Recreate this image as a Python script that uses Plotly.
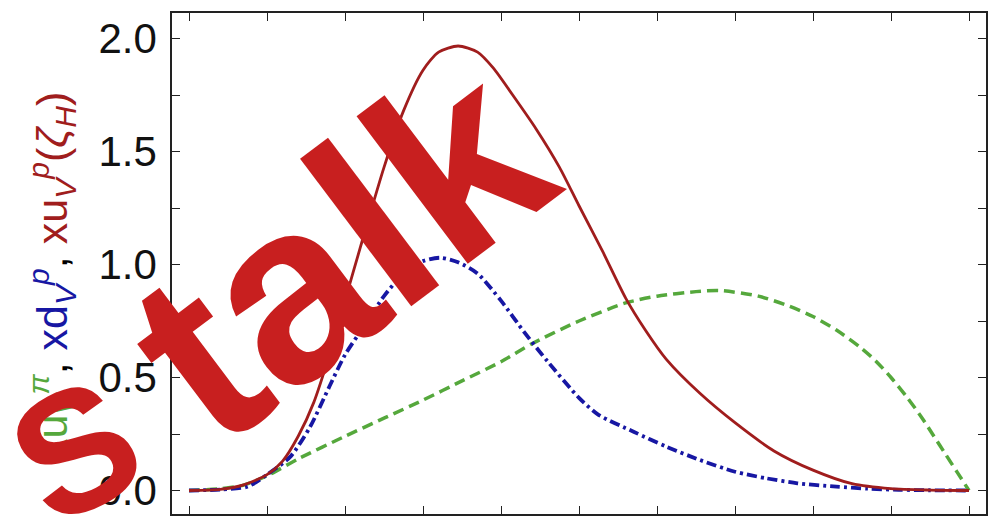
import plotly.graph_objects as go

# ---- data ----
x_red = [0, 0.04, 0.07, 0.1, 0.12, 0.14, 0.16, 0.18, 0.2, 0.22, 0.25, 0.275, 0.3, 0.32,
         0.345, 0.37, 0.39, 0.415, 0.445, 0.475, 0.5, 0.53, 0.56, 0.585, 0.612, 0.655,
         0.7, 0.75, 0.8, 0.85, 0.9, 0.95, 1.0]
y_red = [0, 0.005, 0.025, 0.07, 0.13, 0.24, 0.39, 0.6, 0.84, 1.08, 1.43, 1.68, 1.86, 1.94,
         1.967, 1.94, 1.87, 1.75, 1.6, 1.43, 1.26, 1.06, 0.85, 0.71, 0.58, 0.43, 0.3,
         0.175, 0.09, 0.03, 0.008, 0.002, 0]

x_blue = [0, 0.04, 0.075, 0.1, 0.13, 0.155, 0.18, 0.2, 0.225, 0.25, 0.275, 0.3, 0.322,
          0.345, 0.37, 0.4, 0.43, 0.46, 0.5, 0.525, 0.57, 0.612, 0.655, 0.7, 0.74, 0.78,
          0.83, 0.87, 0.91, 0.95, 1.0]
y_blue = [0, 0.004, 0.017, 0.07, 0.15, 0.28, 0.46, 0.6, 0.73, 0.86, 0.96, 1.015, 1.03,
          1.01, 0.96, 0.84, 0.7, 0.57, 0.41, 0.335, 0.26, 0.194, 0.135, 0.083, 0.054,
          0.032, 0.017, 0.008, 0.003, 0.001, 0]

x_green = [0, 0.04, 0.07, 0.1, 0.14, 0.2, 0.25, 0.3, 0.35, 0.4, 0.44, 0.5, 0.56, 0.6,
           0.65, 0.68, 0.73, 0.77, 0.8, 0.83, 0.86, 0.88, 0.9, 0.92, 0.94, 0.955, 0.97,
           0.985, 1.0]
y_green = [0, 0.008, 0.024, 0.065, 0.14, 0.24, 0.32, 0.4, 0.485, 0.57, 0.65, 0.75, 0.83,
           0.86, 0.88, 0.885, 0.86, 0.815, 0.77, 0.71, 0.635, 0.575, 0.5, 0.415, 0.32,
           0.24, 0.16, 0.08, 0]

y_ticks = [0.0, 0.5, 1.0, 1.5, 2.0]
y_tick_labels = ["0.0", "0.5", "1.0", "1.5", "2.0"]

RED = "#a01d1d"
BLUE = "#1717a3"
GREEN = "#55a83c"
MARK = "#c81f1f"
SMOOTH = 0.7

fig = go.Figure()
fig.add_trace(go.Scatter(x=x_green, y=y_green, mode="lines",
                         line=dict(color=GREEN, width=3.5, dash="11px,6px",
                                   shape="spline", smoothing=SMOOTH)))
fig.add_trace(go.Scatter(x=x_blue, y=y_blue, mode="lines",
                         line=dict(color=BLUE, width=3.8, dash="10px,4px,3px,4px",
                                   shape="spline", smoothing=SMOOTH)))
fig.add_trace(go.Scatter(x=x_red, y=y_red, mode="lines",
                         line=dict(color=RED, width=2.8, shape="spline", smoothing=SMOOTH)))

# the page body adds an 8px offset; targets below are screen pixels
OFF = 8
L, T = 172 - OFF, 13 - OFF
R = 1006 - (986 - OFF)
B = 524 - (514 - OFF)
fig.update_layout(
    width=1006, height=524,
    margin=dict(l=L, r=R, t=T, b=B, pad=0, autoexpand=False),
    paper_bgcolor="white", plot_bgcolor="white",
    showlegend=False,
    font=dict(family="Liberation Sans, Arial, sans-serif", color="black"),
)
fig.update_xaxes(
    range=[-0.0218, 1.0218], dtick=0.1, tick0=0, automargin=False,
    showgrid=False, zeroline=False, showticklabels=False,
    showline=True, linecolor="#222", linewidth=1.6, mirror="allticks",
    ticks="inside", ticklen=8, tickwidth=1.4, tickcolor="#222",
)
fig.update_yaxes(
    range=[-0.104, 2.113], tickvals=y_ticks, ticktext=y_tick_labels, automargin=False,
    showgrid=False, zeroline=False,
    showline=True, linecolor="#222", linewidth=1.6, mirror="allticks",
    ticks="inside", ticklen=8, tickwidth=1.4, tickcolor="#222",
    tickfont=dict(size=42, color="#111"),
    minor=dict(dtick=0.25, tick0=0, ticks="inside", ticklen=8, tickwidth=1.4, tickcolor="#222"),
    ticklabelstandoff=5,
)

pw = 1006 - L - R
ph = 524 - T - B


def px(xs):
    return (xs - OFF - L) / pw


def py(ys):
    return 1 - (ys - OFF - T) / ph


title = ('<span style="color:%s">xu<sub><i>V</i></sub><sup><i>π</i></sup></span>, '
         '<span style="color:%s">xd<sub><i>V</i></sub><sup><i>p</i></sup></span>, '
         '<span style="color:%s">xu<sub><i>V</i></sub><sup><i>p</i></sup>(<i>ζ</i><sub><i>H</i></sub>)</span>'
         ) % (GREEN, BLUE, RED)

fig.add_annotation(text=title, xref="paper", yref="paper", x=px(52), y=py(276),
                   showarrow=False, textangle=-90, xanchor="center", yanchor="middle",
                   font=dict(size=43, family="Liberation Sans, Arial, sans-serif"))

fig.add_annotation(text="<b>S</b>", xref="paper", yref="paper", x=px(75), y=py(450),
                   showarrow=False, textangle=-28, xanchor="center", yanchor="middle",
                   font=dict(size=172, color=MARK, family="Liberation Sans, Arial, sans-serif"))
fig.add_annotation(text="<b>talk</b>", xref="paper", yref="paper", x=px(338), y=py(250),
                   showarrow=False, textangle=-37, xanchor="center", yanchor="middle",
                   font=dict(size=255, color=MARK, family="Liberation Sans, Arial, sans-serif"))

fig.write_html("out.html")
